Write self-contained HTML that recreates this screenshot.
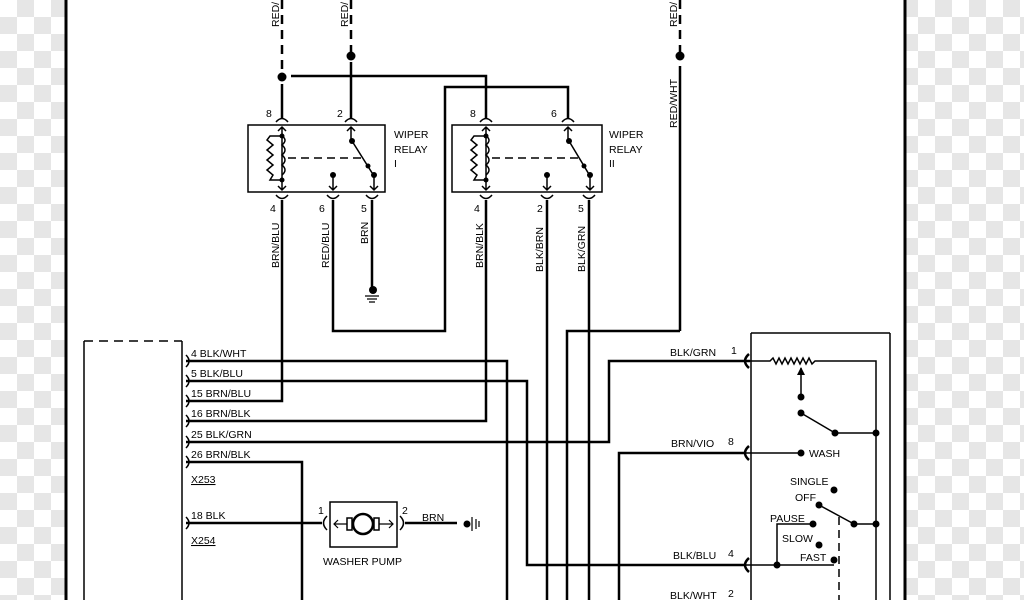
<!DOCTYPE html>
<html><head><meta charset="utf-8"><style>
html,body{margin:0;padding:0;width:1024px;height:600px;overflow:hidden;background:#fff}
</style></head><body>
<svg width="1024" height="600" viewBox="0 0 1024 600" xmlns="http://www.w3.org/2000/svg">
<defs>
<pattern id="ck" width="34" height="34" patternUnits="userSpaceOnUse">
<rect width="34" height="34" fill="#fff"/>
<rect x="17" y="0" width="17" height="17" fill="#e6e6e6"/>
<rect x="0" y="17" width="17" height="17" fill="#e6e6e6"/>
</pattern>
</defs>
<rect x="0" y="0" width="66" height="600" fill="url(#ck)"/>
<rect x="906" y="0" width="118" height="600" fill="url(#ck)"/>
<g stroke="#000" fill="none" stroke-width="2.5">
<line x1="66" y1="0" x2="66" y2="600" stroke-width="3"/>
<line x1="905" y1="0" x2="905" y2="600" stroke-width="3"/>
<line x1="282" y1="0" x2="282" y2="72" stroke-dasharray="9,6"/>
<line x1="351" y1="0" x2="351" y2="52" stroke-dasharray="9,6"/>
<line x1="680" y1="0" x2="680" y2="52" stroke-dasharray="9,6"/>
<line x1="282" y1="84" x2="282" y2="118"/>
<line x1="351" y1="62" x2="351" y2="118"/>
<line x1="680" y1="66" x2="680" y2="331"/>
<polyline points="291,76 486,76 486,118"/>
<polyline points="568,118 568,87 445,87 445,331 333,331 333,200"/>
<rect x="248" y="125" width="137" height="67" stroke-width="1.5"/>
<rect x="452" y="125" width="150" height="67" stroke-width="1.5"/>
<polyline points="282,200 282,401 186,401"/>
<line x1="372" y1="200" x2="372" y2="288"/>
<polyline points="486,200 486,421 186,421"/>
<line x1="547" y1="200" x2="547" y2="600"/>
<line x1="589" y1="200" x2="589" y2="600"/>
<polyline points="680,331 567,331 567,600"/>
<polyline points="186,361 507,361 507,600"/>
<polyline points="186,381 527,381 527,565 745,565"/>
<polyline points="186,442 609,442 609,361 745,361"/>
<polyline points="186,462 302,462 302,600"/>
<polyline points="745,453 619,453 619,600"/>
<line x1="186" y1="523" x2="322" y2="523"/>
<line x1="405" y1="523" x2="457" y2="523"/>
<line x1="84" y1="341" x2="182" y2="341" stroke-dasharray="9,6" stroke-width="1.5"/>
<line x1="84" y1="341" x2="84" y2="600" stroke-width="1.5"/>
<line x1="182" y1="341" x2="182" y2="600" stroke-width="1.5"/>
<line x1="751" y1="333" x2="890" y2="333" stroke-width="1.5"/>
<line x1="751" y1="333" x2="751" y2="600" stroke-width="1.5"/>
<line x1="890" y1="333" x2="890" y2="600" stroke-width="1.5"/>
<g stroke-width="1.5">
<polyline points="745,361 770,361 773,358 776,364 779,358 782,364 785,358 788,364 791,358 794,364 797,358 800,364 803,358 806,364 809,358 812,364 815,361 876,361 876,600"/>
<line x1="801" y1="397" x2="801" y2="368"/>
<line x1="801" y1="413" x2="835" y2="433"/>
<line x1="835" y1="433" x2="876" y2="433"/>
<line x1="745" y1="453" x2="801" y2="453"/>
<line x1="819" y1="505" x2="854" y2="524"/>
<line x1="854" y1="524" x2="876" y2="524"/>
<polyline points="813,524 777,524 777,565"/>
<line x1="745" y1="565" x2="834" y2="565"/>
<line x1="839" y1="517" x2="839" y2="600" stroke-dasharray="8,5"/>
</g>
<path d="M749,354 Q741,361 749,368 M750,361 L744,361"/>
<path d="M749,446 Q741,453 749,460"/>
<path d="M749,558 Q741,565 749,572"/>
<g stroke-width="1.5">
<path d="M186,355 Q192,361 186,367"/>
<path d="M186,375 Q192,381 186,387"/>
<path d="M186,395 Q192,401 186,407"/>
<path d="M186,415 Q192,421 186,427"/>
<path d="M186,436 Q192,442 186,448"/>
<path d="M186,456 Q192,462 186,468"/>
<path d="M186,517 Q192,523 186,529"/>
</g>
<g stroke-width="1.5">
<path d="M276,122 Q282,115 288,122"/><path d="M345,122 Q351,115 357,122"/>
<path d="M480,122 Q486,115 492,122"/><path d="M562,122 Q568,115 574,122"/>
<path d="M276,195 Q282,202 288,195"/><path d="M327,195 Q333,202 339,195"/><path d="M366,195 Q372,202 378,195"/>
<path d="M480,195 Q486,202 492,195"/><path d="M541,195 Q547,202 553,195"/><path d="M583,195 Q589,202 595,195"/>
<path d="M282,127 L282,190 M278,131 L282,127 286,131 M278,186 L282,190 286,186"/>
<path d="M282,136 L270,136 L267,140 273,145 267,150 273,155 267,160 273,165 267,170 273,175 270,180 L282,180"/>
<path d="M282,136 Q288,140 282,145 Q288,150 282,155 Q288,160 282,165 Q288,170 282,175"/>
<line x1="288" y1="158" x2="362" y2="158" stroke-dasharray="8,5"/>
<path d="M351,127 L351,141 M347,131 L351,127 355,131 M352,141 L374,176 L374,190 M370,186 L374,190 378,186"/>
<path d="M333,175 L333,190 M329,186 L333,190 337,186"/>
<path d="M486,127 L486,190 M482,131 L486,127 490,131 M482,186 L486,190 490,186"/>
<path d="M486,136 L474,136 L471,140 477,145 471,150 477,155 471,160 477,165 471,170 477,175 474,180 L486,180"/>
<path d="M486,136 Q492,140 486,145 Q492,150 486,155 Q492,160 486,165 Q492,170 486,175"/>
<line x1="492" y1="158" x2="578" y2="158" stroke-dasharray="8,5"/>
<path d="M568,127 L568,141 M564,131 L568,127 572,131 M569,141 L590,176 L590,190 M586,186 L590,190 594,186"/>
<path d="M547,175 L547,190 M543,186 L547,190 551,186"/>
</g>
<rect x="330" y="502" width="67" height="45" stroke-width="1.5"/>
<circle cx="363" cy="524" r="10"/>
<rect x="347" y="518" width="5" height="12" stroke-width="1.5"/>
<rect x="374" y="518" width="5" height="12" stroke-width="1.5"/>
<path d="M334,524 L347,524 M379,524 L393,524 M338,520 L334,524 338,528 M389,520 L393,524 389,528" stroke-width="1.2"/>
<path d="M327,516 Q320,523 327,530 M400,516 Q407,523 400,530" stroke-width="1.5"/>
<path d="M365,296 L379,296 M367,299 L377,299 M369,302 L375,302" stroke-width="1.2"/>
<path d="M472,517 L472,531 M476,519 L476,529 M479,521 L479,527" stroke-width="1.2"/>
</g>
<g fill="#000">
<circle cx="282" cy="77" r="4.5"/><circle cx="351" cy="56" r="4.5"/><circle cx="680" cy="56" r="4.5"/>
<circle cx="282" cy="136" r="2.5"/><circle cx="282" cy="180" r="2.5"/><circle cx="352" cy="141" r="3"/><circle cx="368" cy="166" r="2.5"/><circle cx="374" cy="175" r="3"/><circle cx="333" cy="175" r="3"/>
<circle cx="486" cy="136" r="2.5"/><circle cx="486" cy="180" r="2.5"/><circle cx="569" cy="141" r="3"/><circle cx="584" cy="166" r="2.5"/><circle cx="590" cy="175" r="3"/><circle cx="547" cy="175" r="3"/>
<circle cx="373" cy="290" r="4"/><circle cx="467" cy="524" r="3.5"/>
<circle cx="801" cy="397" r="3.5"/><circle cx="801" cy="413" r="3.5"/><circle cx="835" cy="433" r="3.5"/><circle cx="876" cy="433" r="3.5"/>
<circle cx="801" cy="453" r="3.5"/><circle cx="834" cy="490" r="3.5"/><circle cx="819" cy="505" r="3.5"/><circle cx="854" cy="524" r="3.5"/><circle cx="876" cy="524" r="3.5"/>
<circle cx="813" cy="524" r="3.5"/><circle cx="819" cy="545" r="3.5"/><circle cx="834" cy="560" r="3.5"/><circle cx="777" cy="565" r="3.5"/>
<path d="M797,375 L801,367 805,375 Z"/>
</g>
<g font-family="Liberation Sans, sans-serif" font-size="10.5" fill="#000">
<text transform="translate(279,27) rotate(-90)">RED/</text>
<text transform="translate(348,27) rotate(-90)">RED/</text>
<text transform="translate(677,27) rotate(-90)">RED/</text>
<text transform="translate(677,128) rotate(-90)">RED/WHT</text>
<text transform="translate(279,268) rotate(-90)">BRN/BLU</text>
<text transform="translate(329,268) rotate(-90)">RED/BLU</text>
<text transform="translate(368,244) rotate(-90)">BRN</text>
<text transform="translate(483,268) rotate(-90)">BRN/BLK</text>
<text transform="translate(543,272) rotate(-90)">BLK/BRN</text>
<text transform="translate(585,272) rotate(-90)">BLK/GRN</text>
<text x="266" y="117">8</text><text x="337" y="117">2</text><text x="470" y="117">8</text><text x="551" y="117">6</text>
<text x="270" y="212">4</text><text x="319" y="212">6</text><text x="361" y="212">5</text>
<text x="474" y="212">4</text><text x="537" y="212">2</text><text x="578" y="212">5</text>
<text x="394" y="138">WIPER</text><text x="394" y="153">RELAY</text><text x="394" y="167">I</text>
<text x="609" y="138">WIPER</text><text x="609" y="153">RELAY</text><text x="609" y="167">II</text>
<text x="191" y="357">4  BLK/WHT</text>
<text x="191" y="377">5  BLK/BLU</text>
<text x="191" y="397">15  BRN/BLU</text>
<text x="191" y="417">16  BRN/BLK</text>
<text x="191" y="438">25  BLK/GRN</text>
<text x="191" y="458">26  BRN/BLK</text>
<text x="191" y="483" text-decoration="underline">X253</text>
<text x="191" y="519">18  BLK</text>
<text x="191" y="544" text-decoration="underline">X254</text>
<text x="318" y="514">1</text><text x="402" y="514">2</text>
<text x="422" y="521">BRN</text>
<text x="323" y="565">WASHER PUMP</text>
<text x="670" y="356">BLK/GRN</text><text x="731" y="354">1</text>
<text x="671" y="447">BRN/VIO</text><text x="728" y="445">8</text>
<text x="673" y="559">BLK/BLU</text><text x="728" y="557">4</text>
<text x="670" y="599">BLK/WHT</text><text x="728" y="597">2</text>
<text x="809" y="457">WASH</text>
<text x="790" y="485">SINGLE</text>
<text x="795" y="501">OFF</text>
<text x="770" y="522">PAUSE</text>
<text x="782" y="542">SLOW</text>
<text x="800" y="561">FAST</text>
</g>
</svg>
</body></html>
